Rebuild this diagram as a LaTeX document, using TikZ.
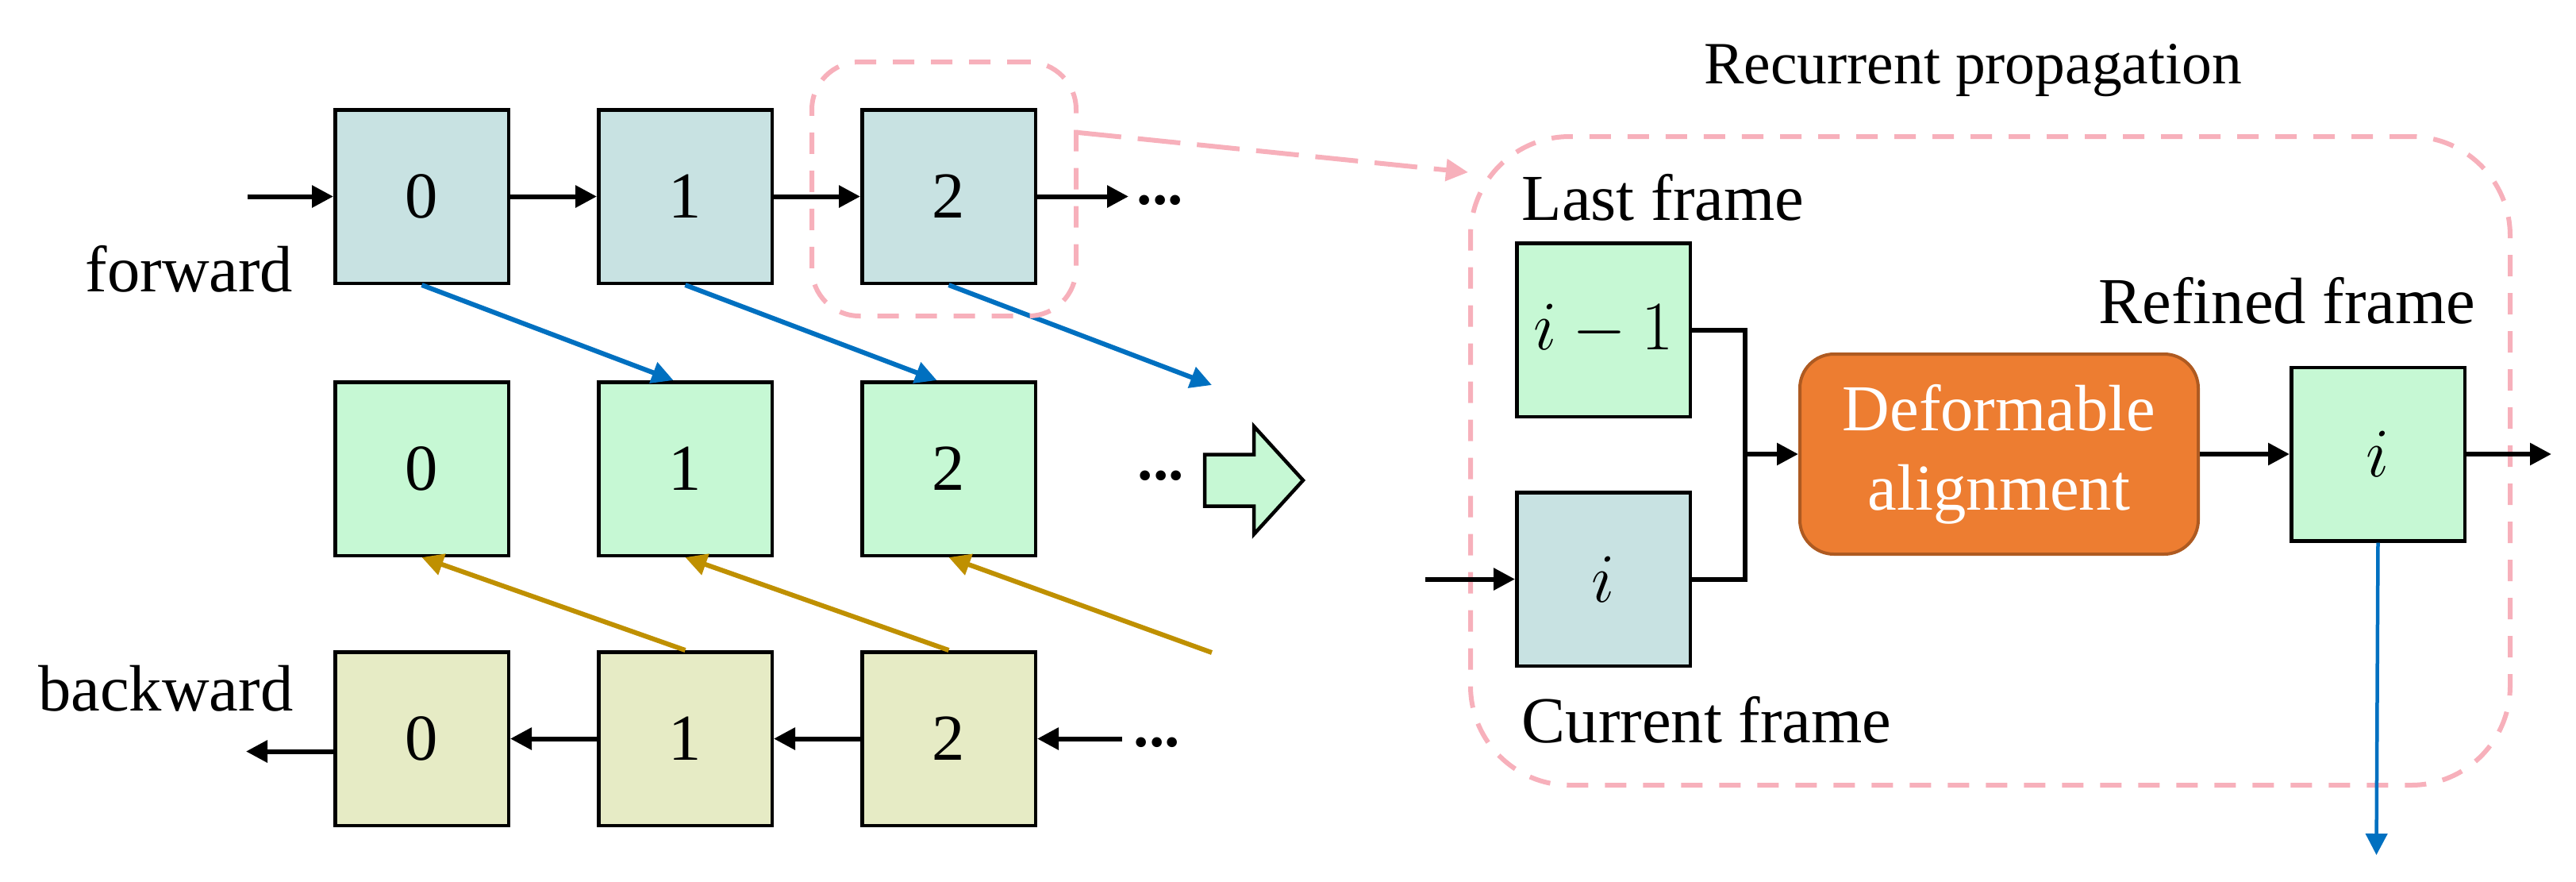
\documentclass[tikz,border=0pt]{standalone}
\usepackage{fontspec}
\setmainfont{Liberation Serif}
\usepackage{xcolor}
\usetikzlibrary{arrows.meta, positioning}
\definecolor{fwdteal}{RGB}{200,226,226}
\definecolor{outgreen}{RGB}{198,248,212}
\definecolor{bwdolive}{RGB}{230,235,197}
\definecolor{fwdblue}{RGB}{0,112,192}
\definecolor{bwdgold}{RGB}{191,144,0}
\definecolor{zoompink}{RGB}{247,176,187}
\definecolor{alignorange}{RGB}{237,125,49}
\definecolor{alignedge}{RGB}{174,90,33}

\begin{document}
\begin{tikzpicture}[
    node distance=1.09cm,
    frame/.style={rectangle, draw, line width=0.045cm, minimum width=2.185cm, minimum height=2.185cm, inner sep=0pt, font=\fontsize{23.5}{28}\selectfont},
    fwd/.style={frame, fill=fwdteal},
    outframe/.style={frame, fill=outgreen},
    bwd/.style={frame, fill=bwdolive},
    txt/.style={inner sep=0pt, font=\fontsize{23.5}{28}\selectfont},
    ellip/.style={inner sep=0pt, font=\fontsize{22}{26}\selectfont\bfseries},
    alignbox/.style={rectangle, draw=alignedge, fill=alignorange, line width=0.04cm, rounded corners=0.43cm, minimum width=5.02cm, minimum height=2.52cm, align=center, text=white, font=\fontsize{23.5}{28.5}\selectfont},
    zoomframe/.style={draw=zoompink, line width=0.06cm, dash pattern=on 0.27cm off 0.21cm, rounded corners=0.6cm, inner sep=0pt},
    zoomarrow/.style={-{Triangle[length=0.28cm, width=0.27cm]}, draw=zoompink, line width=0.06cm, dash pattern=on 0.54cm off 0.21cm},
    conn/.style={line width=0.06cm},
    arrow/.style={-{Triangle[length=0.27cm, width=0.27cm]}, line width=0.06cm},
    blue arrow/.style={arrow, fwdblue},
    gold arrow/.style={arrow, bwdgold}
]
\useasboundingbox (0,0) rectangle (32.46,-11.10);

\node[fwd] (t0) at (5.315,-2.475) {0};
\node[fwd, right=of t0] (t1) {1};
\node[fwd, right=of t1] (t2) {2};
\node[outframe, below=1.2cm of t0] (m0) {0};
\node[outframe, right=of m0] (m1) {1};
\node[outframe, right=of m1] (m2) {2};
\node[bwd, below=1.17cm of m0] (b0) {0};
\node[bwd, right=of b0] (b1) {1};
\node[bwd, right=of b1] (b2) {2};

\node[txt, anchor=base east] (fwdlbl) at (3.70,-3.67) {forward};
\node[txt, anchor=base east] (bwdlbl) at (3.70,-8.95) {backward};
\node[ellip, anchor=base west] (tdots) at (14.32,-2.57) {...};
\node[ellip, anchor=base west] (mdots) at (14.33,-6.04) {...};
\node[ellip, anchor=base west] (bdots) at (14.28,-9.40) {...};

\coordinate (fin) at (3.12,-2.475);
\coordinate (bout) at (3.10,-9.465);
\coordinate (fblue) at (15.27,-4.85);
\coordinate (fgold) at (15.27,-8.22);

\draw[arrow] (fin) -- (t0);
\draw[arrow] (t0) -- (t1);
\draw[arrow] (t1) -- (t2);
\draw[arrow, shorten >=0.1cm] (t2.east) -- (t2.east -| tdots.west);
\draw[arrow, shorten <=0.14cm] (b2.east -| bdots.west) -- (b2.east);
\draw[arrow] (b2) -- (b1);
\draw[arrow] (b1) -- (b0);
\draw[arrow] ([yshift=-0.16cm]b0.west) -- (bout);

\draw[blue arrow] (t0.south) -- ([xshift=-0.15cm]m1.north);
\draw[blue arrow] (t1.south) -- ([xshift=-0.15cm]m2.north);
\draw[blue arrow] (t2.south) -- (fblue);
\draw[gold arrow] (b1.north) -- (m0.south);
\draw[gold arrow] (b2.north) -- (m1.south);
\draw[gold arrow] (fgold) -- (m2.south);

\draw[line width=0.045cm, fill=outgreen] (15.18,-5.725) -- (15.80,-5.725) -- (15.80,-5.37) -- (16.42,-6.05) -- (15.80,-6.73) -- (15.80,-6.375) -- (15.18,-6.375) -- cycle;

\node[zoomframe, minimum width=3.33cm, minimum height=3.20cm] (zbox) at (11.895,-2.38) {};
\node[zoomframe, rounded corners=1.25cm, minimum width=13.10cm, minimum height=8.17cm] (prop) at (25.08,-5.805) {};
\node[txt, anchor=base, font=\fontsize{21.5}{26}\selectfont] (title) at (24.86,-1.05) {Recurrent propagation};
\draw[zoomarrow] ([yshift=0.71cm]zbox.east) -- ([yshift=-0.48cm]prop.north west);

\node[outframe] (pf) at (20.205,-4.155) {$i-1$};
\node[fwd, below=0.91cm of pf] (cf) {$i$};
\node[txt, anchor=base west] (lastlbl) at (19.17,-2.77) {Last frame};
\node[txt, anchor=base west] (curlbl) at (19.17,-9.35) {Current frame};
\node[alignbox] (da) at (25.19,-5.72) {Deformable\\alignment};
\node[outframe, right=1.13cm of da] (rf) {$i$};
\node[txt, anchor=base east] (reflbl) at (31.20,-4.07) {Refined frame};

\coordinate (jn) at (21.99,-5.72);
\coordinate (cin) at (17.96,-7.295);
\coordinate (rout) at (32.15,-5.72);
\coordinate (rdown) at (29.945,-10.77);

\draw[conn] (pf.east) -| (jn);
\draw[conn] (cf.east) -| (jn);
\draw[arrow] (jn) -- (da);
\draw[arrow] (cin) -- (cf);
\draw[arrow] (da) -- (rf);
\draw[arrow] (rf) -- (rout);
\draw[blue arrow, line width=0.045cm] (rf.south) -- (rdown);
\end{tikzpicture}
\end{document}
